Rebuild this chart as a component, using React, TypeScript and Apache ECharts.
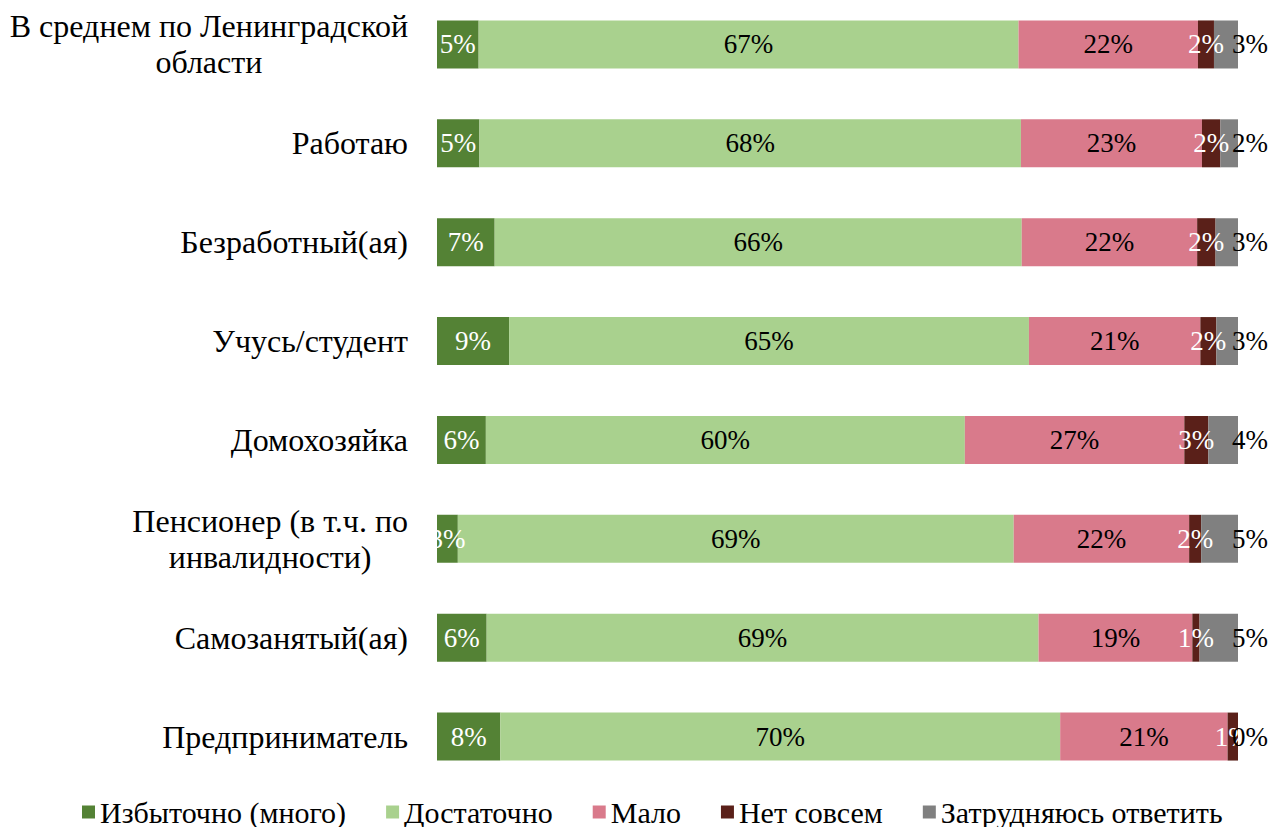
import React, { useEffect, useRef } from "react";
import * as echarts from "echarts";

const categories = [
  "В среднем по Ленинградской\nобласти",
  "Работаю",
  "Безработный(ая)",
  "Учусь/студент",
  "Домохозяйка",
  "Пенсионер (в т.ч. по\nинвалидности)",
  "Самозанятый(ая)",
  "Предприниматель",
];

const seriesNames = [
  "Избыточно (много)",
  "Достаточно",
  "Мало",
  "Нет совсем",
  "Затрудняюсь ответить",
];

const excess = [5.2, 5.3, 7.2, 9.0, 6.1, 2.6, 6.2, 7.9];
const enough = [67.4, 67.6, 65.8, 64.9, 59.8, 69.4, 68.9, 69.9];
const little = [22.4, 22.6, 21.9, 21.4, 27.4, 21.9, 19.2, 20.9];
const none = [2.0, 2.3, 2.3, 2.0, 3.0, 1.5, 0.9, 1.3];
const hard = [3.0, 2.2, 2.8, 2.7, 3.7, 4.7, 4.8, 0];

const colors = ["#548235", "#A9D18E", "#D97A8B", "#5A2019", "#808080"];
const labelColors = ["#ffffff", "#000000", "#000000", "#ffffff", "#000000"];

const FONT = "'Liberation Serif', 'Times New Roman', serif";

export default function App() {
  const ref = useRef<HTMLDivElement>(null);
  useEffect(() => {
    document.body.style.margin = "0";
    const chart = echarts.init(ref.current!, null, { renderer: "svg" });
    const data = [excess, enough, little, none, hard];
    const option: any = {
      animation: false,
      color: colors,
      textStyle: { fontFamily: FONT },
      grid: {
        left: 437,
        right: 41,
        top: -5,
        height: 791,
        outerBoundsMode: "none",
        containLabel: false,
      },
      xAxis: {
        type: "value",
        min: 0,
        max: 100,
        show: false,
        splitLine: { show: false },
      },
      yAxis: {
        type: "category",
        inverse: true,
        data: categories,
        axisLine: { show: false },
        axisTick: { show: false },
        axisLabel: {
          margin: 29,
          fontSize: 32,
          fontFamily: FONT,
          color: "#000",
          formatter: (v: string) =>
            v
              .split("\n")
              .map((l) => `{c|${l}}`)
              .join("\n"),
          rich: {
            c: {
              align: "center",
              fontSize: 32,
              fontFamily: FONT,
              color: "#000",
              lineHeight: 36,
            },
          },
        },
      },
      legend: {
        top: 797,
        left: 82,
        icon: "rect",
        itemWidth: 13,
        itemHeight: 13,
        itemGap: 40,
        padding: 0,
        textStyle: { fontSize: 30, fontFamily: FONT, color: "#000" },
        data: seriesNames,
      },
      series: seriesNames.map((name, i) => ({
        name,
        type: "bar",
        stack: "total",
        barWidth: 48,
        data: data[i],
        itemStyle: { color: colors[i] },
        label: {
          show: true,
          position: i === 4 ? "right" : "inside",
          distance: i === 4 ? -6 : 5,
          fontSize: 27,
          fontFamily: FONT,
          color: labelColors[i],
          formatter: (p: any) => `${Math.round(p.value)}%`,
        },
      })),
    };
    chart.setOption(option);
    return () => chart.dispose();
  }, []);
  return <div ref={ref} style={{ width: 1279, height: 827 }} />;
}
